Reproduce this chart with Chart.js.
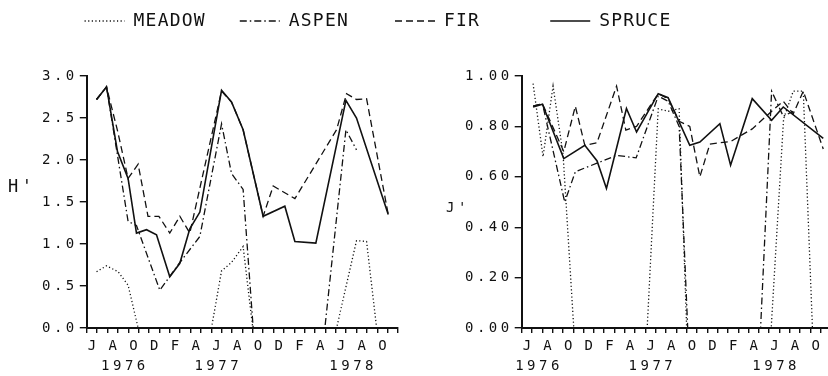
<!DOCTYPE html>
<html>
<head>
<meta charset="utf-8">
<script src="https://cdn.jsdelivr.net/npm/chart.js@4.4.0/dist/chart.umd.min.js"></script>
<style>
  html, body { margin: 0; padding: 0; background: #fff; }
  body { position: relative; width: 828px; height: 376px; overflow: hidden; }
  canvas { position: absolute; }
  #legend { left: 0; top: -22px; }
  #hChart { left: 0; top: 40px; }
  #jChart { left: 414px; top: 40px; }
</style>
</head>
<body>
<canvas id="legend" width="828" height="100"></canvas>
<canvas id="hChart" width="414" height="339"></canvas>
<canvas id="jChart" width="420" height="339"></canvas>
<script>
// x = months since 1 June 1976
const seriesNames = ['MEADOW', 'ASPEN', 'FIR', 'SPRUCE'];
const monthLetters = ['J', 'A', 'O', 'D', 'F', 'A', 'J', 'A', 'O', 'D', 'F', 'A', 'J', 'A', 'O'];
const yearsH = [[3, '1976'], [12, '1977'], [25, '1978']];
const yearsJ = [[1, '1976'], [12, '1977'], [24, '1978']];

// H' (diversity), [month, value]
const meadowH = [[0.94, 0.67], [1.9, 0.74], [3.02, 0.67], [3.98, 0.51], [4.95, 0], [6.9, 0], [8.97, 0], [10.9, 0],
  [12.02, 0], [12.99, 0.68], [13.95, 0.78], [15.07, 0.97], [16.0, 0], [17.0, 0], [19.09, 0], [20.06, 0], [22.08, 0],
  [24.08, 0], [26.0, 1.04], [26.97, 1.03], [27.94, 0]];
const aspenH = [[0.94, 2.72], [1.9, 2.87], [3.98, 1.27], [4.79, 1.22], [7.04, 0.45], [8.97, 0.78], [10.9, 1.09],
  [12.99, 2.43], [13.95, 1.84], [15.07, 1.65], [16.04, 0], [17.0, 0], [19.09, 0], [20.06, 0], [22.08, 0], [22.95, 0],
  [24.98, 2.36], [26.0, 2.12]];
const firH = [[0.94, 2.72], [1.9, 2.87], [2.96, 2.35], [3.98, 1.78], [4.95, 1.95], [5.9, 1.33], [6.95, 1.33], [8.0, 1.13],
  [8.97, 1.33], [9.93, 1.13], [12.99, 2.82], [13.95, 2.69], [15.07, 2.36], [17.0, 1.33], [17.97, 1.69], [20.06, 1.54],
  [24.08, 2.36], [25.04, 2.79], [26.0, 2.72], [26.97, 2.73], [29.06, 1.35]];
const spruceH = [[0.94, 2.72], [1.9, 2.87], [2.96, 2.1], [3.98, 1.78], [4.79, 1.13], [5.76, 1.17], [6.72, 1.11], [8.0, 0.61],
  [8.97, 0.77], [9.93, 1.18], [10.9, 1.38], [12.99, 2.83], [13.95, 2.69], [15.07, 2.36], [17.0, 1.33], [19.09, 1.45],
  [20.06, 1.03], [22.08, 1.01], [24.98, 2.71], [26.0, 2.5], [29.06, 1.35]];

// J' (evenness), [month, value]
const meadowJ = [[1.1, 0.97], [2.07, 0.68], [3.04, 0.96], [4.01, 0.69], [5.05, 0], [7.3, 0], [9.2, 0], [11.14, 0],
  [12.17, 0], [13.24, 0.87], [14.2, 0.86], [15.27, 0.87], [16.0, 0], [18.25, 0], [20.26, 0], [22.36, 0], [24.2, 0],
  [25.4, 0.83], [26.34, 0.94], [27.31, 0.94], [28.2, 0]];
const aspenJ = [[1.1, 0.88], [2.01, 0.89], [4.17, 0.5], [5.2, 0.62], [9.2, 0.685], [11.1, 0.675], [13.24, 0.92],
  [14.2, 0.9], [15.27, 0.8], [16.1, 0], [18.25, 0], [20.26, 0], [22.36, 0], [23.17, 0], [24.24, 0.94], [25.37, 0.84],
  [26.34, 0.86]];
const firJ = [[1.1, 0.88], [2.01, 0.89], [4.08, 0.7], [5.2, 0.88], [6.12, 0.725], [7.3, 0.735], [9.2, 0.96], [10.1, 0.785],
  [11.14, 0.8], [13.24, 0.93], [14.2, 0.91], [15.27, 0.82], [16.3, 0.8], [17.28, 0.6], [18.25, 0.73], [20.26, 0.74],
  [22.36, 0.79], [24.24, 0.86], [25.37, 0.9], [26.34, 0.85], [27.31, 0.94], [29.25, 0.71]];
const spruceJ = [[1.1, 0.877], [2.01, 0.888], [4.08, 0.672], [6.12, 0.725], [7.31, 0.663], [8.22, 0.554], [10.16, 0.871],
  [11.14, 0.778], [13.24, 0.93], [14.2, 0.914], [16.3, 0.725], [17.28, 0.738], [19.22, 0.811], [20.26, 0.646],
  [22.36, 0.91], [24.24, 0.824], [25.37, 0.877], [29.25, 0.752]];

const ink = '#111';
Chart.defaults.font.family = "'DejaVu Sans Mono', 'Liberation Mono', monospace";
Chart.defaults.color = ink;

// plotter lettering is wide, so space the characters out
const spacing = {
  id: 'spacing',
  beforeUpdate(chart, args, opts) { chart.ctx.letterSpacing = opts.value; },
  beforeDraw(chart, args, opts) { chart.ctx.letterSpacing = opts.value; }
};

// horizontal axis caption (H', J')
const axisCaption = {
  id: 'axisCaption',
  afterDraw(chart, args, opts) {
    const ctx = chart.ctx;
    ctx.save();
    ctx.font = opts.size + "px 'DejaVu Sans Mono', monospace";
    ctx.fillStyle = ink;
    ctx.textBaseline = 'alphabetic';
    ctx.fillText(opts.text, opts.x, opts.y);
    ctx.restore();
  }
};

function makeDatasets(series) {
  const dashes = [[1.2, 2.4], [7, 3, 1.5, 3], [7, 4], []];
  const widths = [1.3, 1.3, 1.3, 1.6];
  return series.map((pts, i) => ({
    label: seriesNames[i],
    data: pts,
    borderColor: ink,
    backgroundColor: ink,
    borderWidth: widths[i],
    borderDash: dashes[i],
    pointRadius: 0,
    tension: 0,
    fill: false
  }));
}

function xAxis(years) {
  return {
    type: 'linear',
    min: 0,
    max: 30,
    border: { display: true, color: ink, width: 2 },
    grid: { drawOnChartArea: false, drawTicks: true, tickLength: 5, color: ink, tickColor: ink, lineWidth: 1.4, tickWidth: 1.4 },
    ticks: {
      stepSize: 1,
      autoSkip: false,
      maxRotation: 0,
      minRotation: 0,
      padding: 3,
      labelOffset: 7,
      color: ink,
      font: { size: 14, lineHeight: '20px' },
      callback: function(value) {
        const k = Math.round(value);
        const month = (k % 2 === 0 && k / 2 < monthLetters.length) ? monthLetters[k / 2] : '';
        const year = years.find(y => y[0] === k);
        return year ? [month, year[1]] : month;
      }
    }
  };
}

function yAxis(max, step, digits) {
  return {
    min: 0,
    max: max,
    border: { display: true, color: ink, width: 2 },
    grid: { drawOnChartArea: false, drawTicks: true, tickLength: 7, color: ink, tickColor: ink, lineWidth: 1.4, tickWidth: 1.4 },
    ticks: {
      stepSize: step,
      padding: 2,
      color: ink,
      font: { size: 14 },
      callback: v => v.toFixed(digits)
    }
  };
}

function panel(id, series, years, yMax, yStep, digits, padding, caption) {
  return new Chart(document.getElementById(id), {
    type: 'line',
    data: { datasets: makeDatasets(series) },
    options: {
      responsive: false,
      animation: false,
      layout: { padding: padding },
      plugins: {
        legend: { display: false },
        tooltip: { enabled: false },
        spacing: { value: '3.5px' },
        axisCaption: caption
      },
      scales: { x: xAxis(years), y: yAxis(yMax, yStep, digits) }
    },
    plugins: [spacing, axisCaption]
  });
}

panel('hChart', [meadowH, aspenH, firH, spruceH], yearsH, 3, 0.5, 1,
  { left: 40, right: 16, top: 36, bottom: 0 }, { text: "H'", x: 8, y: 152, size: 17 });
panel('jChart', [meadowJ, aspenJ, firJ, spruceJ], yearsJ, 1, 0.2, 2,
  { left: 49, right: 3, top: 36, bottom: 0 }, { text: "J'", x: 32, y: 172, size: 14 });

// shared legend across the top; names set in fixed six-character columns like the plotter key
new Chart(document.getElementById('legend'), {
  type: 'line',
  data: { datasets: makeDatasets([[], [], [], []]) },
  options: {
    responsive: false,
    animation: false,
    layout: { padding: { left: 0, right: 72, top: 0, bottom: 0 } },
    scales: { x: { display: false }, y: { display: false } },
    plugins: {
      tooltip: { enabled: false },
      spacing: { value: '1.2px' },
      legend: {
        display: true,
        position: 'top',
        align: 'center',
        maxHeight: 90,
        labels: {
          usePointStyle: true,
          pointStyle: 'line',
          pointStyleWidth: 40,
          padding: 34,
          color: ink,
          font: { size: 18 },
          generateLabels: function(chart) {
            const items = Chart.defaults.plugins.legend.labels.generateLabels(chart);
            return items.map(item => {
              const ds = chart.data.datasets[item.datasetIndex];
              return Object.assign({}, item, {
                text: item.text.padEnd(6, ' '),
                lineDash: ds.borderDash,
                lineWidth: ds.borderWidth,
                strokeStyle: ink
              });
            });
          }
        }
      }
    }
  },
  plugins: [spacing]
});
</script>
</body>
</html>
